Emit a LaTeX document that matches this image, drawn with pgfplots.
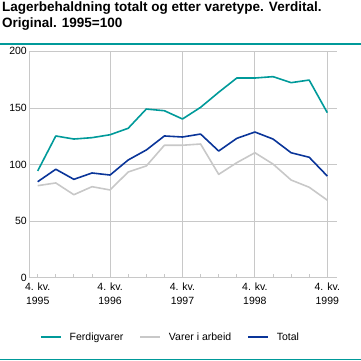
\documentclass[border=0pt]{standalone}
\usepackage{pgfplots}
\pgfplotsset{compat=1.18}
\usepackage{fontspec}
\setmainfont{Liberation Sans}
\definecolor{teal1}{HTML}{009A9A}
\definecolor{gray1}{HTML}{C8C8C8}
\definecolor{blue1}{HTML}{0A3599}
\definecolor{gridc}{HTML}{C8C8C8}
\begin{document}
\begin{tikzpicture}[x=1bp,y=1bp]
\path[use as bounding box] (0,0) rectangle (361,361);
\draw[teal1,line width=1.2bp] (0,317) -- (361,317);
\draw[teal1,line width=1.5bp] (0,1.5) -- (361,1.5);
\node[anchor=base west,inner sep=0pt,font=\fontsize{13.5bp}{16bp}\selectfont\bfseries] at (2,350) {Lagerbehaldning totalt og etter varetype. Verdital.};
\node[anchor=base west,inner sep=0pt,font=\fontsize{13.5bp}{16bp}\selectfont\bfseries] at (2,334) {Original. 1995=100};
\begin{axis}[
  at={(29bp,83.3bp)}, anchor=south west,
  scale only axis, width=307.7bp, height=226.4bp,
  xmin=-0.48, xmax=16.52, ymin=0, ymax=200,
  axis x line*=bottom, axis y line*=left,
  axis line style={gridc, line width=0.8bp},
  x axis line style={-}, y axis line style={-},
  ytick={0,50,100,150,200},
  ymajorgrids, xmajorgrids, grid style={gridc, line width=0.8bp},
  xtick={4,8,12,16}, xticklabels={{4. kv.\\[2bp]1996},{4. kv.\\[2bp]1997},{4. kv.\\[2bp]1998},{4. kv.\\[2bp]1999}},
  extra x ticks={0}, extra x tick labels={{4. kv.\\[2bp]1995}},
  extra x tick style={grid=none},
  minor xtick={1,2,3,5,6,7,9,10,11,13,14,15},
  xtick style={gridc, line width=0.8bp}, major tick length=4bp, minor tick length=4bp,
  tick align=inside,
  ytick style={draw=none},
  xticklabel style={align=center, font=\fontsize{10.5bp}{12bp}\selectfont, inner sep=1bp, yshift=-4bp},
  yticklabel style={font=\fontsize{10.5bp}{12bp}\selectfont, inner sep=2bp},
  /pgf/number format/assume math mode=true,
  legend columns=3,
  legend style={at={(0.46,-0.262)}, anchor=center, draw=none, fill=none,
    font=\fontsize{10.5bp}{12bp}\selectfont, column sep=6bp,
    /tikz/every even column/.append style={column sep=14bp}},
  legend image code/.code={\draw[#1] (0bp,0bp) -- (20bp,0bp);},
  every axis plot/.append style={line width=1.6bp, line join=round},
]
\addplot[teal1] coordinates {(0,94.3)(1,125.2)(2,122.5)(3,123.7)(4,126.3)(5,132)(6,149)(7,147.5)(8,140.2)(9,150.5)(10,163.8)(11,176.4)(12,176.4)(13,177.6)(14,172.3)(15,174.6)(16,145.8)};
\addlegendentry{Ferdigvarer}
\addplot[gray1] coordinates {(0,81.3)(1,83.7)(2,73.3)(3,80.4)(4,77.5)(5,93.4)(6,98.7)(7,117)(8,117)(9,118.1)(10,91.3)(11,101.6)(12,110.4)(13,100.4)(14,86.3)(15,79.9)(16,68.5)};
\addlegendentry{Varer i arbeid}
\addplot[blue1] coordinates {(0,84.8)(1,95.8)(2,86.9)(3,92.5)(4,90.7)(5,104)(6,112.8)(7,125.2)(8,124.3)(9,126.9)(10,111.9)(11,123.1)(12,128.7)(13,122.5)(14,110.4)(15,106.4)(16,89.8)};
\addlegendentry{Total}
\end{axis}
\end{tikzpicture}
\end{document}
